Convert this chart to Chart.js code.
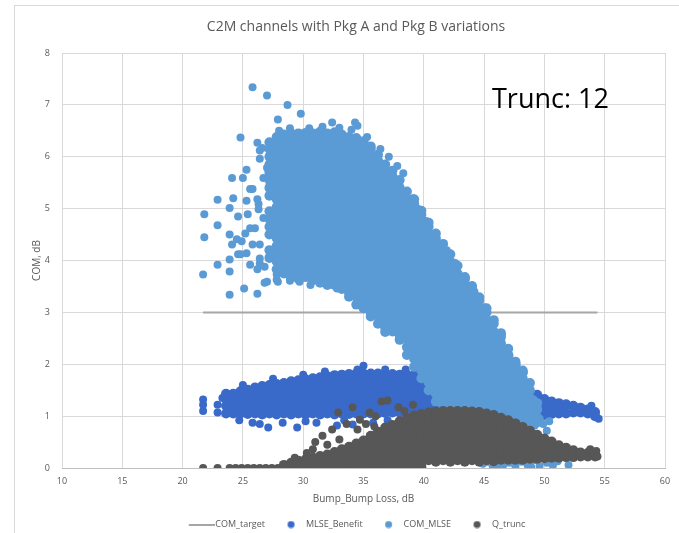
<!DOCTYPE html>
<html>
<head>
<meta charset="utf-8">
<script src="https://cdn.jsdelivr.net/npm/chart.js@4.4.0/dist/chart.umd.min.js"></script>
<style>
  body { margin: 0; background: #fff; }
  #wrap { position: relative; width: 679px; height: 533px; overflow: hidden; background: #fff; }
  #frame { position: absolute; left: 14px; top: 5px; width: 720px; height: 600px; border: 1px solid #d9d9d9; }
  #chart { position: absolute; left: 15px; top: 6px; }
  #note { position: absolute; left: 492px; top: 79px; font: 27px 'Open Sans', sans-serif; color: #000; white-space: nowrap; }
</style>
</head>
<body>
<div id="wrap">
  <div id="frame"></div>
  <canvas id="chart" width="682" height="533"></canvas>
  <div id="note">Trunc: 12</div>
</div>
<script>
// COM target: flat line across the swept loss range
const comTargetPts = [[21.7, 3], [54.4, 3]];

// MLSE_Benefit: columns are [x, y, y, ...], extras are single [x, y]
const mlseBenefitCols = [
  [23.6, 1.05, 1.2, 1.35, 1.43],
  [24.2, 1.05, 1.13, 1.28, 1.43],
  [24.8, 1.05, 1.2, 1.35, 1.48],
  [25.4, 1.04, 1.13, 1.28, 1.43, 1.51],
  [26.0, 1.05, 1.2, 1.35, 1.5, 1.55],
  [26.6, 1.03, 1.13, 1.28, 1.43, 1.58],
  [27.2, 1.05, 1.2, 1.35, 1.5, 1.6],
  [27.8, 1.03, 1.13, 1.28, 1.43, 1.58, 1.62],
  [28.4, 1.05, 1.2, 1.35, 1.5, 1.64],
  [29.0, 1.03, 1.13, 1.28, 1.43, 1.58, 1.67],
  [29.6, 1.05, 1.2, 1.35, 1.5, 1.65, 1.69],
  [30.2, 1.03, 1.13, 1.28, 1.43, 1.58, 1.71],
  [30.8, 1.05, 1.2, 1.35, 1.5, 1.65, 1.73],
  [31.4, 1.03, 1.13, 1.28, 1.43, 1.58, 1.73, 1.75],
  [32.0, 1.05, 1.2, 1.35, 1.5, 1.65, 1.77],
  [32.6, 1.03, 1.13, 1.28, 1.43, 1.58, 1.73, 1.79],
  [33.2, 1.05, 1.2, 1.35, 1.5, 1.65, 1.8],
  [33.8, 1.04, 1.13, 1.28, 1.43, 1.58, 1.73, 1.81],
  [34.4, 1.05, 1.2, 1.35, 1.5, 1.65, 1.8, 1.82],
  [35.0, 1.05, 1.13, 1.28, 1.43, 1.58, 1.73, 1.82],
  [35.6, 1.05, 1.2, 1.35, 1.5, 1.65, 1.8, 1.82],
  [36.2, 1.05, 1.13, 1.28, 1.43, 1.58, 1.73, 1.82],
  [36.8, 1.06, 1.2, 1.35, 1.5, 1.65, 1.8],
  [37.4, 1.07, 1.13, 1.28, 1.43, 1.58, 1.73, 1.81],
  [38.0, 1.07, 1.2, 1.35, 1.5, 1.65, 1.8],
  [38.6, 1.07, 1.13, 1.28, 1.43, 1.58, 1.73, 1.8],
  [39.2, 1.07, 1.2, 1.35, 1.5, 1.65, 1.79],
  [39.8, 1.07, 1.13, 1.28, 1.43, 1.58, 1.63],
  [40.4, 1.07, 1.2, 1.35, 1.43],
  [41.0, 1.07, 1.13, 1.23],
  [48.8, 1.02, 1.13, 1.28, 1.41],
  [49.4, 1.05, 1.2, 1.35, 1.41],
  [50.0, 1.02, 1.13, 1.28, 1.33],
  [50.6, 1.04, 1.2, 1.28],
  [51.2, 1.05, 1.13, 1.25],
  [51.8, 1.05, 1.2, 1.23],
  [52.4, 1.07, 1.2],
  [53.0, 1.07, 1.16],
  [53.6, 1.05, 1.13],
  [54.2, 1.0, 1.08]
];
const mlseBenefitPts = [
  [21.7, 1.32], [21.7, 1.22], [21.7, 1.1], [22.9, 1.22], [22.9, 1.07], [23.3, 1.35],
  [25.8, 0.87], [27.1, 0.78], [28.3, 0.87], [29.5, 0.78], [31.1, 0.87], [32.8, 0.82],
  [34.1, 0.84], [35.8, 0.87], [35.0, 1.97], [24.7, 0.92], [26.4, 0.85], [30.2, 0.9],
  [33.4, 0.92], [37.0, 0.92], [25.0, 1.6], [27.5, 1.72], [30.0, 1.8], [31.8, 1.86],
  [34.5, 1.9], [36.8, 1.9], [38.5, 1.9], [54.5, 0.95], [53.9, 1.2]
];

// COM_MLSE: dense body plus scattered points around it
const comMlseCols = [
  [27.2, 4.05, 4.2, 4.5, 4.65, 4.8, 4.95, 5.25, 5.4, 5.55, 5.7, 5.85, 6.0, 6.15, 6.28],
  [27.8, 3.83, 3.98, 4.13, 4.28, 4.43, 4.58, 4.73, 4.88, 5.03, 5.18, 5.33, 5.48, 5.63, 5.78, 5.93, 6.08, 6.23, 6.38],
  [28.4, 3.75, 3.9, 4.05, 4.2, 4.35, 4.5, 4.65, 4.8, 4.95, 5.1, 5.25, 5.4, 5.55, 5.7, 5.85, 6.0, 6.15, 6.3, 6.43],
  [29.0, 3.68, 3.83, 3.98, 4.13, 4.28, 4.43, 4.58, 4.73, 4.88, 5.03, 5.18, 5.33, 5.48, 5.63, 5.78, 5.93, 6.08, 6.23, 6.38, 6.45],
  [29.6, 3.65, 3.75, 3.9, 4.05, 4.2, 4.35, 4.5, 4.65, 4.8, 4.95, 5.1, 5.25, 5.4, 5.55, 5.7, 5.85, 6.0, 6.15, 6.3, 6.45],
  [30.2, 3.68, 3.83, 3.98, 4.13, 4.28, 4.43, 4.58, 4.73, 4.88, 5.03, 5.18, 5.33, 5.48, 5.63, 5.78, 5.93, 6.08, 6.23, 6.38, 6.46],
  [30.8, 3.62, 3.75, 3.9, 4.05, 4.2, 4.35, 4.5, 4.65, 4.8, 4.95, 5.1, 5.25, 5.4, 5.55, 5.7, 5.85, 6.0, 6.15, 6.3, 6.45],
  [31.4, 3.57, 3.68, 3.83, 3.98, 4.13, 4.28, 4.43, 4.58, 4.73, 4.88, 5.03, 5.18, 5.33, 5.48, 5.63, 5.78, 5.93, 6.08, 6.23, 6.38, 6.48],
  [32.0, 3.53, 3.6, 3.75, 3.9, 4.05, 4.2, 4.35, 4.5, 4.65, 4.8, 4.95, 5.1, 5.25, 5.4, 5.55, 5.7, 5.85, 6.0, 6.15, 6.3, 6.45],
  [32.6, 3.53, 3.68, 3.83, 3.98, 4.13, 4.28, 4.43, 4.58, 4.73, 4.88, 5.03, 5.18, 5.33, 5.48, 5.63, 5.78, 5.93, 6.08, 6.23, 6.38, 6.47],
  [33.2, 3.45, 3.6, 3.75, 3.9, 4.05, 4.2, 4.35, 4.5, 4.65, 4.8, 4.95, 5.1, 5.25, 5.4, 5.55, 5.7, 5.85, 6.0, 6.15, 6.3, 6.43],
  [33.8, 3.3, 3.38, 3.53, 3.68, 3.83, 3.98, 4.13, 4.28, 4.43, 4.58, 4.73, 4.88, 5.03, 5.18, 5.33, 5.48, 5.63, 5.78, 5.93, 6.08, 6.23, 6.38],
  [34.4, 3.15, 3.3, 3.45, 3.6, 3.75, 3.9, 4.05, 4.2, 4.35, 4.5, 4.65, 4.8, 4.95, 5.1, 5.25, 5.4, 5.55, 5.7, 5.85, 6.0, 6.15, 6.3, 6.36],
  [35.0, 3.08, 3.23, 3.38, 3.53, 3.68, 3.83, 3.98, 4.13, 4.28, 4.43, 4.58, 4.73, 4.88, 5.03, 5.18, 5.33, 5.48, 5.63, 5.78, 5.93, 6.08, 6.23, 6.3],
  [35.6, 2.92, 3.0, 3.15, 3.3, 3.45, 3.6, 3.75, 3.9, 4.05, 4.2, 4.35, 4.5, 4.65, 4.8, 4.95, 5.1, 5.25, 5.4, 5.55, 5.7, 5.85, 6.0, 6.15, 6.2],
  [36.2, 2.78, 2.93, 3.08, 3.23, 3.38, 3.53, 3.68, 3.83, 3.98, 4.13, 4.28, 4.43, 4.58, 4.73, 4.88, 5.03, 5.18, 5.33, 5.48, 5.63, 5.78, 5.93, 6.04],
  [36.8, 2.62, 2.7, 2.85, 3.0, 3.15, 3.3, 3.45, 3.6, 3.75, 3.9, 4.05, 4.2, 4.35, 4.5, 4.65, 4.8, 4.95, 5.1, 5.25, 5.4, 5.55, 5.7, 5.85],
  [37.4, 2.63, 2.78, 2.93, 3.08, 3.23, 3.38, 3.53, 3.68, 3.83, 3.98, 4.13, 4.28, 4.43, 4.58, 4.73, 4.88, 5.03, 5.18, 5.33, 5.48, 5.63, 5.73],
  [38.0, 2.47, 2.55, 2.7, 2.85, 3.0, 3.15, 3.3, 3.45, 3.6, 3.75, 3.9, 4.05, 4.2, 4.35, 4.5, 4.65, 4.8, 4.95, 5.1, 5.25, 5.4, 5.55],
  [38.6, 2.18, 2.33, 2.48, 2.63, 2.78, 2.93, 3.08, 3.23, 3.38, 3.53, 3.68, 3.83, 3.98, 4.13, 4.28, 4.43, 4.58, 4.73, 4.88, 5.03, 5.18, 5.33],
  [39.2, 1.95, 2.1, 2.25, 2.4, 2.55, 2.7, 2.85, 3.0, 3.15, 3.3, 3.45, 3.6, 3.75, 3.9, 4.05, 4.2, 4.35, 4.5, 4.65, 4.8, 4.95, 5.1, 5.18],
  [39.8, 1.73, 1.88, 2.03, 2.18, 2.33, 2.48, 2.63, 2.78, 2.93, 3.08, 3.23, 3.38, 3.53, 3.68, 3.83, 3.98, 4.13, 4.28, 4.43, 4.58, 4.73, 4.88, 4.96],
  [40.4, 1.5, 1.65, 1.8, 1.95, 2.1, 2.25, 2.4, 2.55, 2.7, 2.85, 3.0, 3.15, 3.3, 3.45, 3.6, 3.75, 3.9, 4.05, 4.2, 4.35, 4.5, 4.65, 4.73],
  [41.0, 1.28, 1.43, 1.58, 1.73, 1.88, 2.03, 2.18, 2.33, 2.48, 2.63, 2.78, 2.93, 3.08, 3.23, 3.38, 3.53, 3.68, 3.83, 3.98, 4.13, 4.28, 4.43, 4.52],
  [41.6, 1.05, 1.2, 1.35, 1.5, 1.65, 1.8, 1.95, 2.1, 2.25, 2.4, 2.55, 2.7, 2.85, 3.0, 3.15, 3.3, 3.45, 3.6, 3.75, 3.9, 4.05, 4.2, 4.32],
  [42.2, 0.98, 1.13, 1.28, 1.43, 1.58, 1.73, 1.88, 2.03, 2.18, 2.33, 2.48, 2.63, 2.78, 2.93, 3.08, 3.23, 3.38, 3.53, 3.68, 3.83, 3.98, 4.12],
  [42.8, 1.05, 1.2, 1.35, 1.5, 1.65, 1.8, 1.95, 2.1, 2.25, 2.4, 2.55, 2.7, 2.85, 3.0, 3.15, 3.3, 3.45, 3.6, 3.75, 3.9],
  [43.4, 0.98, 1.13, 1.28, 1.43, 1.58, 1.73, 1.88, 2.03, 2.18, 2.33, 2.48, 2.63, 2.78, 2.93, 3.08, 3.23, 3.38, 3.53, 3.68],
  [44.0, 1.05, 1.2, 1.35, 1.5, 1.65, 1.8, 1.95, 2.1, 2.25, 2.4, 2.55, 2.7, 2.85, 3.0, 3.15, 3.3, 3.45, 3.51],
  [44.6, 0.98, 1.13, 1.28, 1.43, 1.58, 1.73, 1.88, 2.03, 2.18, 2.33, 2.48, 2.63, 2.78, 2.93, 3.08, 3.23, 3.29],
  [45.2, 1.05, 1.2, 1.35, 1.5, 1.65, 1.8, 1.95, 2.1, 2.25, 2.4, 2.55, 2.7, 2.85, 3.0, 3.08],
  [45.8, 0.98, 1.13, 1.28, 1.43, 1.58, 1.73, 1.88, 2.03, 2.18, 2.33, 2.48, 2.63, 2.78, 2.85],
  [46.4, 0.9, 1.05, 1.2, 1.35, 1.5, 1.65, 1.8, 1.95, 2.1, 2.25, 2.4, 2.55, 2.6],
  [47.0, 0.83, 0.98, 1.13, 1.28, 1.43, 1.58, 1.73, 1.88, 2.03, 2.18, 2.3],
  [47.6, 0.9, 1.05, 1.2, 1.35, 1.5, 1.65, 1.8, 1.95, 2.05],
  [48.2, 0.83, 0.98, 1.13, 1.28, 1.43, 1.58, 1.73, 1.88],
  [48.8, 0.75, 0.9, 1.05, 1.2, 1.35, 1.5, 1.64],
  [49.4, 0.88, 0.98, 1.13, 1.25]
];
const comMlsePts = [
  [25.8, 7.34], [27.0, 7.18], [28.7, 7.0], [29.8, 6.83], [27.9, 6.72], [24.8, 6.37],
  [32.4, 6.66], [34.3, 6.66], [34.5, 6.6],
  [21.8, 4.89], [21.8, 4.45], [21.7, 3.73], [22.9, 5.17], [22.9, 4.68], [22.9, 3.92],
  [23.9, 3.34], [25.1, 3.46], [26.2, 3.36], [23.9, 3.79], [24.1, 5.59], [25.0, 5.59],
  [25.3, 5.75], [23.9, 5.01], [24.2, 5.2], [24.6, 4.85], [23.9, 4.5], [24.1, 4.31],
  [23.9, 4.02], [24.8, 4.12], [24.5, 4.41], [25.2, 4.52], [25.4, 4.89], [25.6, 5.38],
  [26.2, 6.27], [26.6, 6.17], [26.4, 5.96], [25.8, 5.38], [26.2, 5.18], [26.3, 4.99],
  [26.0, 4.62], [26.4, 4.31], [25.3, 4.14], [25.6, 3.92], [26.8, 3.88], [27.0, 3.59],
  [27.8, 3.73], [27.9, 3.59], [28.9, 3.65], [29.7, 3.75], [30.6, 3.53], [30.8, 3.65],
  [32.0, 3.53], [32.8, 3.46], [26.8, 3.57], [27.8, 3.63], [28.9, 3.61], [29.7, 3.59],
  [26.4, 3.94], [26.2, 3.83], [24.6, 4.12], [26.4, 6.12], [27.0, 5.79], [26.7, 5.59],
  [26.3, 5.09], [26.7, 4.82], [25.8, 4.31], [26.4, 4.04], [25.3, 5.15], [24.9, 4.37],
  [25.6, 4.62],
  [28.0, 6.5], [28.9, 6.55], [30.5, 6.55], [31.6, 6.58], [33.0, 6.56], [34.0, 6.52],
  [35.3, 6.38], [36.4, 6.15], [37.1, 6.0], [37.8, 5.82], [38.3, 5.68],
  [39.1, 5.2], [39.5, 5.0], [40.2, 4.76], [41.0, 4.5], [41.9, 4.2], [42.6, 3.95],
  [43.5, 3.65], [44.2, 3.4], [45.0, 3.1], [45.8, 2.82], [46.45, 2.5], [47.1, 2.17],
  [47.7, 2.0], [48.3, 1.84], [48.75, 1.55], [49.1, 1.32],
  [49.2, 0.82], [49.6, 0.95], [49.9, 0.85], [50.2, 0.72], [50.4, 0.9],
  [44.9, 0.08], [45.3, 0.12], [45.7, 0.05], [46.1, 0.14], [46.6, 0.06], [47.1, 0.1],
  [47.6, 0.03], [48.1, 0.12], [48.6, 0.06], [49.1, 0.15], [49.6, 0.04], [50.2, 0.1],
  [50.7, 0.05], [51.1, 0.13], [52.0, 0.06], [46.3, 0.02], [48.9, 0.02], [50.5, 0.2]
];

// Q_trunc: zero floor up to ~40 dB, then the raised cloud
const qTruncCols = [
  [28.4, 0.02, 0.06],
  [29.0, 0.02, 0.1],
  [29.6, 0.02, 0.14],
  [30.2, 0.02, 0.08, 0.17],
  [30.8, 0.02, 0.15, 0.2],
  [31.4, 0.02, 0.08, 0.23],
  [32.0, 0.02, 0.15, 0.26],
  [32.6, 0.02, 0.08, 0.23, 0.31],
  [33.2, 0.02, 0.15, 0.3, 0.36],
  [33.8, 0.02, 0.08, 0.23, 0.38, 0.41],
  [34.4, 0.02, 0.15, 0.3, 0.45, 0.47],
  [35.0, 0.02, 0.08, 0.23, 0.38, 0.53],
  [35.6, 0.02, 0.15, 0.3, 0.45, 0.6, 0.62],
  [36.2, 0.02, 0.08, 0.23, 0.38, 0.53, 0.68, 0.7],
  [36.8, 0.02, 0.15, 0.3, 0.45, 0.6, 0.75, 0.78],
  [37.4, 0.02, 0.08, 0.23, 0.38, 0.53, 0.68, 0.83],
  [38.0, 0.02, 0.15, 0.3, 0.45, 0.6, 0.75, 0.9],
  [38.6, 0.02, 0.08, 0.23, 0.38, 0.53, 0.68, 0.83, 0.96],
  [39.2, 0.02, 0.15, 0.3, 0.45, 0.6, 0.75, 0.9, 1.01],
  [39.8, 0.02, 0.08, 0.23, 0.38, 0.53, 0.68, 0.83, 0.98, 1.04],
  [40.4, 0.15, 0.3, 0.45, 0.6, 0.75, 0.9, 1.05, 1.07],
  [41.0, 0.12, 0.23, 0.38, 0.53, 0.68, 0.83, 0.98, 1.09],
  [41.6, 0.15, 0.3, 0.45, 0.6, 0.75, 0.9, 1.05, 1.1],
  [42.2, 0.12, 0.23, 0.38, 0.53, 0.68, 0.83, 0.98, 1.1],
  [42.8, 0.15, 0.3, 0.45, 0.6, 0.75, 0.9, 1.05, 1.1],
  [43.4, 0.12, 0.23, 0.38, 0.53, 0.68, 0.83, 0.98, 1.1],
  [44.0, 0.15, 0.3, 0.45, 0.6, 0.75, 0.9, 1.05, 1.09],
  [44.6, 0.12, 0.23, 0.38, 0.53, 0.68, 0.83, 0.98, 1.08],
  [45.2, 0.15, 0.3, 0.45, 0.6, 0.75, 0.9, 1.05],
  [45.8, 0.13, 0.23, 0.38, 0.53, 0.68, 0.83, 0.98, 1.02],
  [46.4, 0.16, 0.3, 0.45, 0.6, 0.75, 0.9, 0.97],
  [47.0, 0.16, 0.23, 0.38, 0.53, 0.68, 0.83, 0.92],
  [47.6, 0.16, 0.3, 0.45, 0.6, 0.75, 0.86],
  [48.2, 0.16, 0.23, 0.38, 0.53, 0.68, 0.79],
  [48.8, 0.18, 0.3, 0.45, 0.6, 0.72],
  [49.4, 0.18, 0.23, 0.38, 0.53, 0.64],
  [50.0, 0.19, 0.3, 0.45, 0.57],
  [50.6, 0.2, 0.3, 0.42, 0.51],
  [51.2, 0.2, 0.3, 0.44],
  [51.8, 0.21, 0.31, 0.39],
  [52.4, 0.21, 0.3, 0.34],
  [53.0, 0.22, 0.3],
  [53.6, 0.22, 0.29],
  [54.2, 0.22, 0.28]
];
const qTruncPts = [
  [21.7, 0], [22.9, 0], [23.9, 0], [24.4, 0], [24.9, 0], [25.4, 0], [25.9, 0],
  [26.4, 0], [26.9, 0], [27.4, 0], [27.9, 0],
  [30.3, 0.29], [31.0, 0.5], [31.6, 0.62], [32.0, 0.45], [32.4, 0.74], [32.9, 1.07],
  [33.6, 0.85], [34.1, 1.17], [34.5, 0.74], [34.7, 0.93], [35.2, 0.85], [35.5, 1.07],
  [36.0, 1.0], [36.5, 1.28], [37.0, 1.3], [37.9, 1.17], [39.1, 1.22], [29.3, 0.2],
  [29.9, 0.1], [33.0, 0.55], [35.9, 0.8], [38.4, 1.1], [30.8, 0.36],
  [54.3, 0.33], [54.4, 0.22], [53.8, 0.36]
];

function toPoints(cols, extra) {
  const pts = [];
  cols.forEach(([x, ...ys]) => ys.forEach((y) => pts.push({ x, y })));
  extra.forEach(([x, y]) => pts.push({ x, y }));
  return pts;
}
const countCols = (cols) => cols.reduce((n, c) => n + c.length - 1, 0);

const colTarget = "#A6A6A6";
const colBenefit = "#3A6AC9";
const colMlse = "#5B9BD5";
const colTrunc = "#575757";

// small legend markers, offset so the text sits where Excel puts it
function lineMarker(color) {
  const c = document.createElement("canvas");
  c.width = 32;
  c.height = 2;
  const g = c.getContext("2d");
  g.fillStyle = color;
  g.fillRect(6, 0, 26, 2);
  return c;
}
function dotMarker(color) {
  const c = document.createElement("canvas");
  c.width = 12;
  c.height = 8;
  const g = c.getContext("2d");
  g.fillStyle = color;
  g.beginPath();
  g.arc(7.5, 4, 3.5, 0, Math.PI * 2);
  g.fill();
  return c;
}
const markers = [lineMarker(colTarget), dotMarker(colBenefit), dotMarker(colMlse), dotMarker(colTrunc)];

// packed points overlap a bit more so the clouds read as solid
function cloudStyle(cols, color, order) {
  const n = countCols(cols);
  const r = (ctx) => (ctx.dataIndex < n ? 5 : 4);
  return { backgroundColor: color, borderWidth: 0, pointRadius: r, pointHoverRadius: r, order };
}

Chart.defaults.font.family = "'Open Sans', sans-serif";
Chart.defaults.color = "#595959";

new Chart(document.getElementById("chart").getContext("2d"), {
  type: "scatter",
  data: {
    datasets: [
      {
        label: "COM_target",
        data: toPoints([], comTargetPts),
        showLine: true,
        borderColor: colTarget,
        borderWidth: 2,
        pointRadius: 0,
        order: 3,
      },
      { label: "MLSE_Benefit", data: toPoints(mlseBenefitCols, mlseBenefitPts), ...cloudStyle(mlseBenefitCols, colBenefit, 2) },
      { label: "COM_MLSE", data: toPoints(comMlseCols, comMlsePts), ...cloudStyle(comMlseCols, colMlse, 1) },
      { label: "Q_trunc", data: toPoints(qTruncCols, qTruncPts), ...cloudStyle(qTruncCols, colTrunc, 0) },
    ],
  },
  options: {
    responsive: false,
    animation: false,
    events: [],
    layout: { padding: 0 },
    plugins: {
      title: {
        display: true,
        text: "C2M channels with Pkg A and Pkg B variations",
        color: "#595959",
        font: { size: 14, weight: "normal" },
        padding: { top: 12.4, bottom: 17.8 },
      },
      legend: {
        position: "bottom",
        reverse: true,
        labels: {
          usePointStyle: true,
          pointStyleWidth: 24,
          boxHeight: 9,
          padding: 12.5,
          color: "#595959",
          font: { size: 9 },
          generateLabels: (chart) =>
            Chart.defaults.plugins.legend.labels
              .generateLabels(chart)
              .map((item) => Object.assign(item, { pointStyle: markers[item.datasetIndex] })),
        },
      },
      tooltip: { enabled: false },
    },
    scales: {
      x: {
        type: "linear",
        min: 10,
        max: 60,
        ticks: { stepSize: 5, padding: 8, font: { size: 9 } },
        grid: { color: "#D9D9D9", drawTicks: false },
        border: { color: "#BFBFBF" },
        title: { display: true, text: "Bump_Bump Loss, dB", font: { size: 10 }, padding: { top: 0, bottom: 2.5 } },
        afterFit: (s) => { s.height = 39.5; },
      },
      y: {
        min: 0,
        max: 8,
        ticks: { stepSize: 1, padding: 12, font: { size: 9 } },
        grid: { color: "#D9D9D9", drawTicks: false },
        border: { display: false },
        title: { display: true, text: "COM, dB", font: { size: 10 }, padding: { top: 16, bottom: 0 } },
        afterFit: (s) => { s.width = 47; },
      },
      yRight: {
        position: "right",
        min: 0,
        max: 8,
        ticks: { display: false },
        grid: { display: false },
        border: { display: false },
        afterFit: (s) => { s.width = 32; },
      },
    },
  },
});
</script>
</body>
</html>
